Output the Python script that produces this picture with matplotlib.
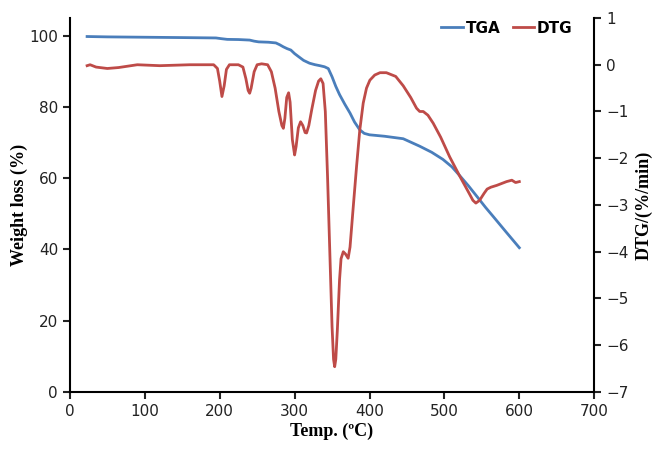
import matplotlib.pyplot as plt

# TGA curve (weight %, left axis)
tga_t = [23, 50, 100, 150, 195, 202, 210, 225, 240, 246, 252, 265, 275, 280, 285, 290, 295,
         300, 305, 312, 320, 327, 334, 340, 345, 350, 355, 360, 367, 374, 380, 387, 393, 400,
         420, 445, 467, 483, 498, 510, 521, 532, 543, 555, 565, 582, 600]
tga_w = [99.8, 99.7, 99.6, 99.5, 99.4, 99.2, 99.0, 98.95, 98.8, 98.5, 98.3, 98.2, 98.0, 97.5,
         96.9, 96.4, 96.0, 95.0, 94.2, 93.1, 92.3, 91.9, 91.6, 91.3, 90.8, 88.5, 85.8, 83.5,
         80.8, 78.3, 75.8, 73.6, 72.6, 72.2, 71.8, 71.1, 69.0, 67.3, 65.3, 63.2, 60.6, 57.9,
         55.0, 51.8, 49.3, 45.0, 40.5]

# DTG curve (%/min, right axis)
dtg_t = [23, 27, 35, 50, 65, 90, 120, 160, 192, 197, 200, 203, 206, 209, 213, 225, 231, 235,
         238, 240, 242, 246, 250, 256, 264, 269, 274, 279, 283, 285, 287, 289.5, 292, 294,
         297, 300, 302, 305, 308, 311, 314, 316, 319, 323, 328, 332, 335, 338, 341, 344, 347,
         350, 352, 353.5, 355, 357, 360, 362, 365, 368, 371.5, 374, 378, 382.7, 387, 391.6,
         396, 400.5, 407, 414, 422.5, 435, 445, 455, 462.8, 467, 471.7, 478, 485, 495, 507,
         520.7, 533, 538, 542, 547, 553, 557, 562, 570, 583, 590, 595, 600]
dtg_v = [-0.02, 0.0, -0.05, -0.08, -0.06, 0.0, -0.02, 0.0, 0.0, -0.08, -0.35, -0.68, -0.45,
         -0.1, 0.0, 0.0, -0.05, -0.3, -0.55, -0.61, -0.5, -0.15, 0.0, 0.02, 0.0, -0.15, -0.5,
         -1.0, -1.3, -1.36, -1.15, -0.7, -0.6, -0.8, -1.6, -1.93, -1.75, -1.35, -1.22, -1.3,
         -1.45, -1.46, -1.3, -0.95, -0.55, -0.35, -0.3, -0.4, -1.0, -2.4, -4.0, -5.6, -6.3,
         -6.46, -6.3, -5.7, -4.6, -4.15, -4.0, -4.05, -4.14, -3.9, -3.1, -2.18, -1.4, -0.82,
         -0.5, -0.33, -0.22, -0.17, -0.17, -0.25, -0.45, -0.7, -0.93, -1.0, -1.0, -1.08,
         -1.25, -1.55, -1.97, -2.39, -2.75, -2.9, -2.96, -2.9, -2.75, -2.66, -2.62, -2.58,
         -2.5, -2.47, -2.52, -2.5]

blue = '#4a7ebb'
red = '#be4b48'

fig = plt.figure(figsize=(6.53, 4.5), dpi=100)
ax = fig.add_axes([0.107, 0.129, 0.803, 0.831])
ax2 = ax.twinx()

l1, = ax.plot(tga_t, tga_w, color=blue, lw=2.0, label='TGA', solid_joinstyle='round')
l2, = ax2.plot(dtg_t, dtg_v, color=red, lw=2.0, label='DTG', solid_joinstyle='round')

ax.set_xlim(0, 700)
ax.set_ylim(0, 105)
ax.set_xticks(range(0, 701, 100))
ax.set_yticks(range(0, 101, 20))
ax2.set_ylim(-7, 1)
ax2.set_yticks(range(-7, 2))

for a in (ax, ax2):
    a.spines['top'].set_visible(False)
    for s in ('left', 'right', 'bottom'):
        a.spines[s].set_linewidth(1.5)
    a.tick_params(direction='out', length=5, width=1.5, labelsize=11, colors='#222222')
ax.spines['right'].set_visible(False)
ax2.spines['left'].set_visible(False)
ax2.spines['bottom'].set_visible(False)

serif = {'family': 'Liberation Serif', 'weight': 'bold', 'size': 13}
ax.set_xlabel('Temp. (ºC)', fontdict=serif, labelpad=3)
ax.set_ylabel('Weight loss (%)', fontdict=serif, labelpad=1)
ax2.set_ylabel('DTG/(%/min)', fontdict=serif, labelpad=5)

leg = ax2.legend(handles=[l1, l2], loc='upper right', bbox_to_anchor=(0.985, 1.03), ncol=2,
                 frameon=False, handlelength=1.4, handletextpad=0.2, columnspacing=0.8,
                 prop={'weight': 'bold', 'size': 11})

fig.savefig('out.png', dpi=100)
